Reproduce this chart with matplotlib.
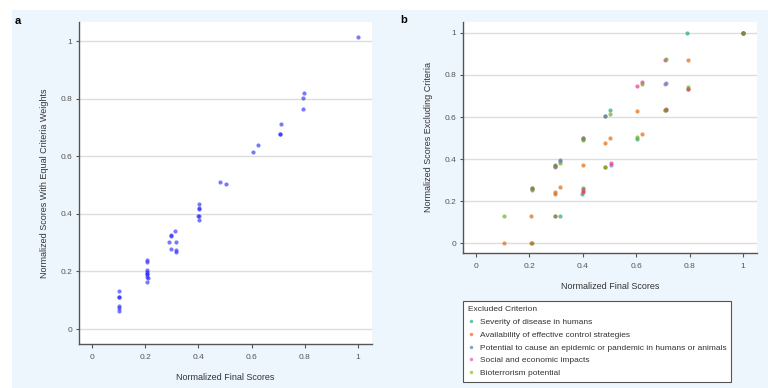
import matplotlib
matplotlib.use('Agg')
import matplotlib.pyplot as plt
from matplotlib.patches import Rectangle
from matplotlib.lines import Line2D
import numpy as np

plt.rcParams.update({
    'font.family': ['Liberation Sans', 'DejaVu Sans'],
    'font.size': 6.5,
    'text.color': '#333333',
    'axes.labelcolor': '#333333',
    'xtick.color': '#555555',
    'ytick.color': '#555555',
})

# ---- panel a: final score vs equal-weight score ----
a_x = [1.0, 0.796, 0.793, 0.793, 0.712, 0.707, 0.707, 0.623, 0.604, 0.482, 0.502,
       0.402, 0.402, 0.402, 0.397, 0.402, 0.402,
       0.312, 0.297, 0.297, 0.289, 0.315, 0.297, 0.315, 0.315,
       0.206, 0.206, 0.206, 0.206, 0.206, 0.206, 0.210, 0.206, 0.206,
       0.101, 0.101, 0.101, 0.101, 0.101, 0.101]
a_y = [1.015, 0.818, 0.802, 0.765, 0.713, 0.678, 0.678, 0.638, 0.614, 0.509, 0.502,
       0.434, 0.419, 0.416, 0.394, 0.391, 0.377,
       0.340, 0.328, 0.323, 0.303, 0.303, 0.277, 0.274, 0.266,
       0.240, 0.232, 0.205, 0.197, 0.190, 0.182, 0.176, 0.163, 0.190,
       0.133, 0.110, 0.110, 0.080, 0.072, 0.064]

# ---- panel b: final score vs score excluding one criterion ----
criteria = ['Severity of disease in humans',
            'Availability of effective control strategies',
            'Potential to cause an epidemic or pandemic in humans or animals',
            'Social and economic impacts',
            'Bioterrorism potential']
crit_colors = ['#1B9E77', '#D95F02', '#7570B3', '#E7298A', '#66A61E']
legend_colors = ['#66C2A5', '#FC8D62', '#8DA0CB', '#E78AC3', '#A6D854']

b_x = [
    [0.79, 1.0, 0.71, 0.503, 0.483, 0.603, 0.40, 0.297, 0.397, 0.315, 0.21, 0.208],
    [0.794, 1.0, 0.707, 0.603, 0.483, 0.503, 0.623, 0.40, 0.40, 0.483, 0.313, 0.297,
     0.294, 0.40, 0.206, 0.104, 0.206, 0.21, 0.793],
    [1.0, 0.708, 0.71, 0.483, 0.315, 0.313, 0.294, 0.504, 0.40, 0.208],
    [1.0, 0.708, 0.603, 0.623, 0.71, 0.793, 0.504, 0.40, 0.297, 0.294, 0.40],
    [1.0, 0.71, 0.623, 0.793, 0.706, 0.503, 0.603, 0.40, 0.313, 0.297, 0.483, 0.208,
     0.104, 0.294, 0.40],
]
b_y = [
    [1.0, 1.0, 0.632, 0.634, 0.607, 0.496, 0.495, 0.374, 0.235, 0.131, 0.0, 0.26],
    [0.869, 1.0, 0.635, 0.627, 0.477, 0.502, 0.521, 0.50, 0.371, 0.362, 0.265, 0.243,
     0.235, 0.243, 0.131, 0.0, 0.0, 0.262, 0.735],
    [1.0, 0.757, 0.764, 0.607, 0.395, 0.389, 0.363, 0.371, 0.502, 0.258],
    [1.0, 0.871, 0.746, 0.765, 0.64, 0.735, 0.381, 0.259, 0.127, 0.365, 0.25],
    [1.0, 0.874, 0.759, 0.743, 0.632, 0.616, 0.504, 0.49, 0.383, 0.368, 0.362, 0.255,
     0.129, 0.127, 0.26],
]

ticks = [0, 0.2, 0.4, 0.6, 0.8, 1]
tick_labels = ['0', '0.2', '0.4', '0.6', '0.8', '1']

W, H = 768, 388
fig = plt.figure(figsize=(W / 100, H / 100), dpi=100)
fig.patches.append(Rectangle((12 / W, 0), 1 - 12 / W, 378 / H, transform=fig.transFigure,
                             facecolor='#EEF6FD', edgecolor='none', zorder=-10))

def px_axes(l, t, r, b):
    return fig.add_axes([l / W, 1 - b / H, (r - l) / W, (b - t) / H])

def style(ax, ylab):
    ax.set_facecolor('white')
    for s in ['top', 'right']:
        ax.spines[s].set_visible(False)
    for s in ['left', 'bottom']:
        ax.spines[s].set_color('#555555')
        ax.spines[s].set_linewidth(1.0)
    ax.set_xticks(ticks)
    ax.set_xticklabels(tick_labels)
    ax.set_yticks(ticks)
    ax.set_yticklabels(tick_labels)
    ax.tick_params(axis='x', length=3, width=0.8, labelsize=6, pad=4)
    ax.tick_params(axis='y', length=2, width=0.8, labelsize=6, pad=3)
    ax.yaxis.grid(True, color='#DDDDDD', linewidth=1.0)
    ax.set_axisbelow(True)
    ax.set_xlabel('Normalized Final Scores', fontsize=6.5, labelpad=9)
    ax.set_ylabel(ylab, fontsize=6.5, labelpad=8)

ax_a = px_axes(79, 22, 372, 344)
ax_a.scatter(a_x, a_y, s=9, color='#2020FF', alpha=0.6, linewidths=0)
ax_a.set_xlim(-0.049, 1.053)
ax_a.set_ylim(-0.052, 1.066)
style(ax_a, 'Normalized Scores With Equal Criteria Weights')

ax_b = px_axes(463, 22, 757, 253)
for xs, ys, c in zip(b_x, b_y, crit_colors):
    ax_b.scatter(xs, ys, s=9, color=c, alpha=0.65, linewidths=0)
ax_b.set_xlim(-0.049, 1.052)
ax_b.set_ylim(-0.047, 1.052)
style(ax_b, 'Normalized Scores Excluding Criteria')

fig.text(18 / W, 1 - 21 / H, 'a', fontsize=8, fontweight='bold', color='black',
         ha='center', va='center')
fig.text(404 / W, 1 - 20 / H, 'b', fontsize=8, fontweight='bold', color='black',
         ha='center', va='center')

handles = [Line2D([], [], marker='o', linestyle='none', markersize=2.5,
                  markerfacecolor=c, markeredgecolor='none') for c in legend_colors]
leg = fig.legend(handles, criteria, title='Excluded Criterion', loc='upper left',
                 bbox_to_anchor=(463 / W, 1 - 301 / H), borderaxespad=0,
                 fontsize=6, title_fontsize=6,
                 frameon=True, fancybox=False, edgecolor='#555555', framealpha=1,
                 handlelength=0.8, handletextpad=0.6, labelspacing=0.6,
                 borderpad=0.6, alignment='left')
leg.get_frame().set_linewidth(0.8)

fig.savefig('out.png', dpi=100)
